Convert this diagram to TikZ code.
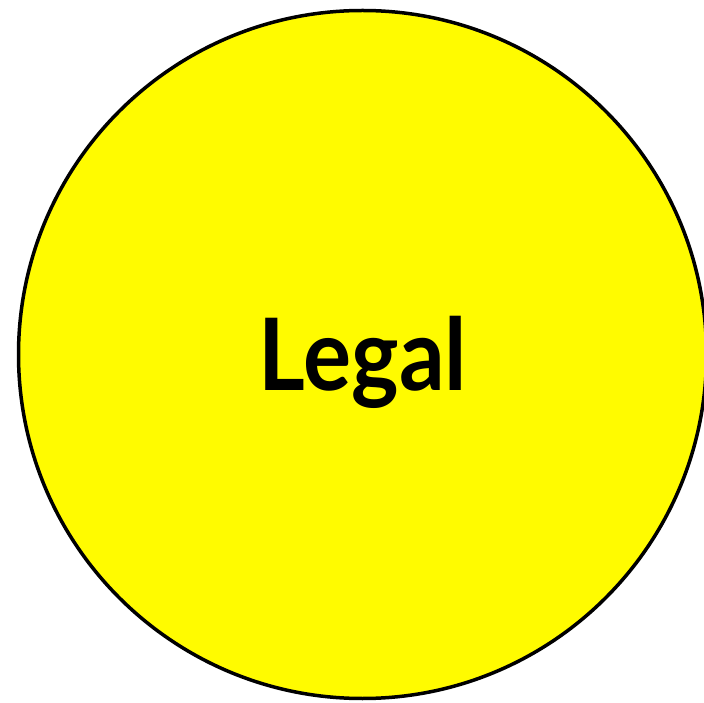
\documentclass[tikz,border=0pt]{standalone}
\usepackage{fontspec}
\setmainfont{Lato}
\tikzset{
  disc/.style={circle, draw=black, line width=3.5pt, fill={rgb,255:red,255;green,251;blue,0}, minimum size=688pt, inner sep=0pt},
  lbl/.style={font=\bfseries\fontsize{100}{110}\selectfont, text=black, inner sep=0pt}
}
\begin{document}
\begin{tikzpicture}[x=1pt,y=1pt]
\useasboundingbox (0,0) rectangle (704,702);
\node[disc] (c) at (362.5,347.5) {};
\node[lbl, xscale=0.9] (t) at (363,340) {Legal};
\end{tikzpicture}
\end{document}
